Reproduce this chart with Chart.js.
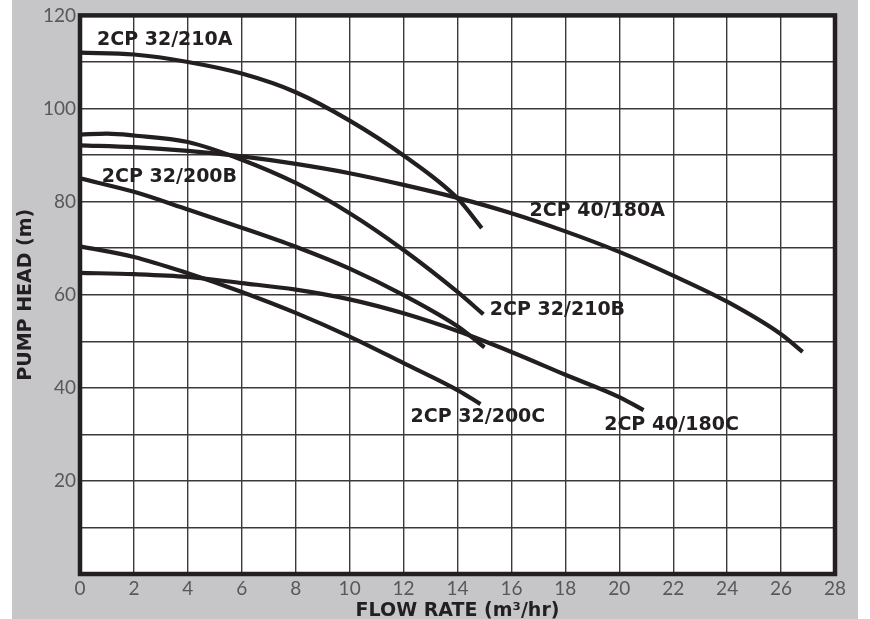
<!DOCTYPE html>
<html>
<head>
<meta charset="utf-8">
<script src="https://cdn.jsdelivr.net/npm/chart.js@4"></script>
<style>
  html, body { margin: 0; padding: 0; background: #fff; }
  #wrap { position: absolute; left: 12px; top: 0; width: 846px; height: 619px; background: #c6c6c8; }
</style>
</head>
<body>
<div id="wrap"><canvas id="myChart" width="846" height="619"></canvas></div>
<script>
// 곡선 데이터 (유량 m3/hr, 양정 m)
var flow210A = [0, 2, 4, 6, 8, 10, 12, 14, 14.9];
var head210A = [112, 111.6, 110, 107.5, 103.5, 97.4, 89.9, 80.7, 74.3];

var flow180A = [0, 2, 4, 6, 8, 10, 12, 14, 16, 18, 20, 22, 24, 26, 26.8];
var head180A = [92.1, 91.7, 90.9, 89.7, 88.1, 86.1, 83.6, 80.8, 77.5, 73.6, 69.2, 64.1, 58.5, 51.5, 47.7];

var flow210B = [0, 1, 2, 4, 6, 8, 10, 12, 14, 14.96];
var head210B = [94.4, 94.6, 94.2, 92.8, 89, 84, 77.5, 69.6, 60.6, 55.8];

var flow200B = [0, 2, 4, 6, 8, 10, 12, 14, 15];
var head200B = [85, 82.1, 78.3, 74.4, 70.3, 65.6, 59.9, 53.2, 48.7];

var flow180C = [0, 2, 4, 6, 8, 10, 12, 14, 16, 18, 20, 20.9];
var head180C = [64.7, 64.4, 63.8, 62.5, 61.1, 59, 56, 52.2, 47.7, 42.8, 38, 35.2];

var flow200C = [0, 2, 4, 6, 8, 10, 12, 14, 14.85];
var head200C = [70.4, 68.1, 64.6, 60.6, 56.1, 51, 45.3, 39.5, 36.5];

// 곡선 이름과 이름표 위치 (데이터 좌표: 왼쪽 x, 가운데 y)
var curveNames = ['2CP 32/210A', '2CP 40/180A', '2CP 32/210B', '2CP 32/200B', '2CP 40/180C', '2CP 32/200C'];
var labelX = [0.63, 16.67, 15.2, 0.81, 19.44, 12.26];
var labelY = [114.6, 77.9, 56.7, 85.2, 32, 33.7];

var lineColor = '#231f20';
var titleFont = "'DejaVu Sans', sans-serif";
var tickFont = "Lato, 'DejaVu Sans', sans-serif";

function toPoints(xs, ys){
	var pts = [];
	for(var i=0; i<xs.length; i++){
		pts.push({x: xs[i], y: ys[i]});
	}
	return pts;
}

var allFlows = [flow210A, flow180A, flow210B, flow200B, flow180C, flow200C];
var allHeads = [head210A, head180A, head210B, head200B, head180C, head200C];

var datasets = [];
for(var i=0; i<curveNames.length; i++){
	datasets.push({
		label: curveNames[i],
		data: toPoints(allFlows[i], allHeads[i]),
		showLine: true,
		borderColor: lineColor,
		borderWidth: 4.2,
		pointRadius: 0,
		cubicInterpolationMode: 'monotone',
		borderCapStyle: 'butt'
	});
}

// 그림 영역 흰 배경 + 굵은 테두리 + 곡선 이름표
var framePlugin = {
	id: 'frame',
	beforeDraw: function(chart){
		var a = chart.chartArea, ctx = chart.ctx;
		ctx.save();
		ctx.fillStyle = '#ffffff';
		ctx.fillRect(a.left, a.top, a.right - a.left, a.bottom - a.top);
		ctx.restore();
	},
	afterDraw: function(chart){
		var a = chart.chartArea, ctx = chart.ctx;
		var xs = chart.scales.x, ys = chart.scales.y;
		ctx.save();
		ctx.strokeStyle = lineColor;
		ctx.lineWidth = 4.5;
		ctx.strokeRect(a.left, a.top, a.right - a.left, a.bottom - a.top);
		ctx.fillStyle = lineColor;
		ctx.font = 'bold 19px ' + titleFont;
		ctx.textAlign = 'left';
		ctx.textBaseline = 'middle';
		for(var i=0; i<curveNames.length; i++){
			ctx.fillText(curveNames[i], xs.getPixelForValue(labelX[i]), ys.getPixelForValue(labelY[i]));
		}
		ctx.restore();
	}
};

var ctx = document.getElementById('myChart').getContext('2d');
var myChart = new Chart(ctx, {
	type: 'scatter',
	data: { datasets: datasets },
	options: {
		responsive: false,
		animation: false,
		layout: { padding: { top: 15, right: 23, left: 0, bottom: 0 } },
		plugins: {
			legend: { display: false },
			tooltip: { enabled: false }
		},
		scales: {
			x: {
				type: 'linear',
				min: 0,
				max: 28,
				afterFit: function(scale){ scale.height = 45; },
				ticks: { stepSize: 2, color: '#58585a', font: { family: tickFont, size: 19 }, padding: 3 },
				grid: { color: '#3a3a3a', lineWidth: 1.4, drawTicks: false },
				border: { display: false },
				title: { display: true, text: 'FLOW RATE (m³/hr)', color: lineColor, font: { family: titleFont, size: 19, weight: 'bold' }, padding: { top: 0, bottom: -3 } }
			},
			y: {
				min: 0,
				max: 120,
				afterFit: function(scale){ scale.width = 68; },
				ticks: {
					stepSize: 10,
					color: '#58585a',
					font: { family: tickFont, size: 19 },
					padding: 4,
					callback: function(v){ return (v % 20 === 0 && v !== 0) ? v : ''; }
				},
				grid: { color: '#3a3a3a', lineWidth: 1.4, drawTicks: false },
				border: { display: false },
				title: { display: true, text: 'PUMP HEAD (m)', color: lineColor, font: { family: titleFont, size: 19, weight: 'bold' }, padding: { top: 3, bottom: 0 } }
			}
		}
	},
	plugins: [framePlugin]
});
</script>
</body>
</html>
